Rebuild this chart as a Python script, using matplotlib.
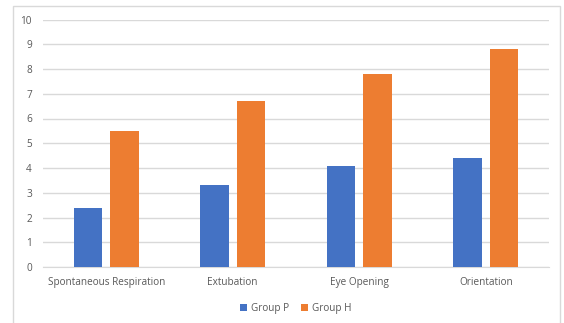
import matplotlib
matplotlib.use("Agg")
import matplotlib.pyplot as plt
import matplotlib.patches as mpatches
import numpy as np

categories = ["Spontaneous Respiration", "Extubation", "Eye Opening", "Orientation"]
group_p = [2.4, 3.3, 4.1, 4.4]
group_h = [5.5, 6.7, 7.8, 8.8]
yticks = [0, 1, 2, 3, 4, 5, 6, 7, 8, 9, 10]

W, H = 564, 323
fig = plt.figure(figsize=(W / 100, H / 100), dpi=100)
plt.rcParams['font.family'] = ['Open Sans', 'DejaVu Sans']

# chart border (bottom edge is cut off in the reference)
fig.patches.append(mpatches.Rectangle((13 / W, -0.05), (560 - 13) / W, 1 - 6 / H + 0.05,
                                      transform=fig.transFigure, fill=False,
                                      edgecolor="#D9D9D9", lw=1))

ax = fig.add_axes([43 / W, 1 - 267 / H, (549 - 43) / W, (267 - 19.5) / H])

x = np.arange(len(categories))
bw = 0.225
off = 0.144
ax.bar(x - off, group_p, bw, color="#4472C4", label="Group P", zorder=3)
ax.bar(x + off, group_h, bw, color="#ED7D31", label="Group H", zorder=3)

ax.set_xlim(-0.5, len(categories) - 0.5)
ax.set_ylim(0, 10)
ax.set_yticks(yticks)
ax.yaxis.grid(True, color="#D9D9D9", lw=1)
ax.set_axisbelow(True)
for s in ["top", "right", "left"]:
    ax.spines[s].set_visible(False)
ax.spines["bottom"].set_color("#D9D9D9")
ax.set_xticks(x)
ax.set_xticklabels(categories)
ax.tick_params(axis="both", length=0, labelsize=7.2, labelcolor="#595959")
ax.tick_params(axis="x", pad=7.5)
ax.tick_params(axis="y", pad=8)

leg = ax.legend(loc="upper center", bbox_to_anchor=(0.5, -0.11), ncol=2, frameon=False,
                fontsize=7.2, handlelength=0.7, handleheight=0.7, handletextpad=0.4,
                columnspacing=1.2)
for t in leg.get_texts():
    t.set_color("#595959")

fig.savefig("out.png", dpi=100)
